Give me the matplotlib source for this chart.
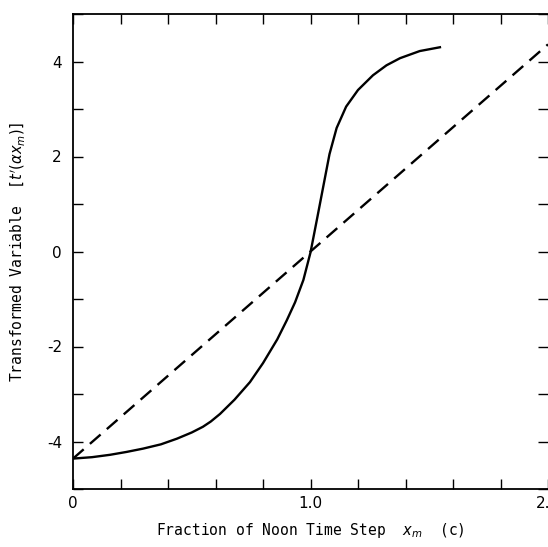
import numpy as np
import matplotlib.pyplot as plt
from matplotlib.ticker import MultipleLocator

plt.rcParams['axes.unicode_minus'] = False

# solid curve
x_solid = [0, 0.08, 0.156, 0.225, 0.295, 0.37, 0.438, 0.50, 0.547, 0.58, 0.619,
           0.68, 0.745, 0.80, 0.86, 0.90, 0.935, 0.97, 1.0, 1.03, 1.055, 1.08,
           1.11, 1.15, 1.20, 1.263, 1.32, 1.377, 1.46, 1.545]
y_solid = [-4.36, -4.33, -4.28, -4.22, -4.15, -4.06, -3.94, -3.81, -3.69, -3.58, -3.42,
           -3.12, -2.75, -2.35, -1.85, -1.45, -1.07, -0.6, -0.02, 0.75, 1.4, 2.05,
           2.6, 3.05, 3.4, 3.71, 3.92, 4.07, 4.22, 4.30]

# dashed straight line
x_dash = [0, 2.0]
y_dash = [-4.36, 4.36]

xticks = [0, 1.0, 2.0]
xticklabels = ['0', '1.0', '2.0']
yticks = [-4, -2, 0, 2, 4]
yticklabels = ['-4', '-2', '0', '2', '4']

fig = plt.figure(figsize=(5.48, 5.47), dpi=100)
ax = fig.add_axes([73/548, 58/547, 475/548, 475/547])

ax.plot(x_solid, y_solid, color='black', lw=1.7)
ax.plot(x_dash, y_dash, color='black', lw=1.7, dashes=(6, 3.5))

ax.set_xlim(0, 2.0)
ax.set_ylim(-5, 5)
ax.set_xticks(xticks)
ax.set_xticklabels(xticklabels)
ax.set_yticks(yticks)
ax.set_yticklabels(yticklabels)
ax.xaxis.set_minor_locator(MultipleLocator(0.2))
ax.yaxis.set_minor_locator(MultipleLocator(1))

ax.tick_params(which='both', direction='in', top=True, right=True,
               length=7, width=1, labelsize=11)
ax.tick_params(axis='y', pad=8)
ax.tick_params(axis='x', pad=5)
ax.spines['right'].set_visible(False)
for s in ('left', 'bottom', 'top'):
    ax.spines[s].set_linewidth(1.3)

ax.set_xlabel(r"Fraction of Noon Time Step  $x_m$  (c)",
              family='DejaVu Sans Mono', fontsize=10.5, labelpad=7)
ax.set_ylabel(r"Transformed Variable  [$t'(\alpha x_m)$]",
              family='DejaVu Sans Mono', fontsize=10.5, labelpad=14)

fig.savefig('out.png', dpi=100)
